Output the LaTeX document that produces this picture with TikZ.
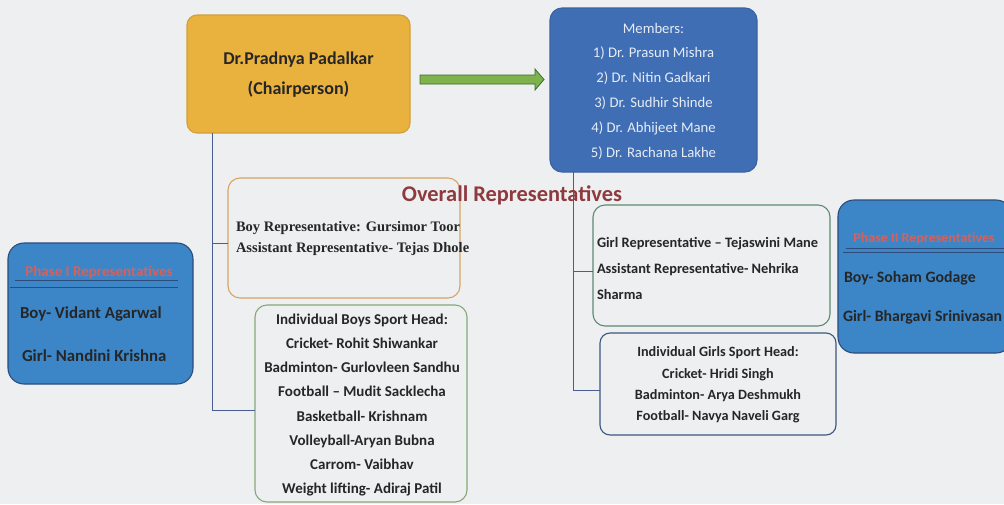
\documentclass[tikz,border=0pt]{standalone}
\usepackage{fontspec}
\setmainfont{Carlito}
\newfontfamily\serifb{Liberation Serif}
\usetikzlibrary{calc}
\definecolor{bg}{HTML}{EDEFF1}
\definecolor{chairfill}{HTML}{E9B23F}
\definecolor{memfill}{HTML}{3F6EB4}
\definecolor{memtext}{HTML}{E6ECF6}
\definecolor{phfill}{HTML}{3C86C8}
\definecolor{phdraw}{HTML}{2C4C7C}
\definecolor{orangeb}{HTML}{D9A463}
\definecolor{greenb}{HTML}{86A878}
\definecolor{tealb}{HTML}{5E8A72}
\definecolor{navyb}{HTML}{3B5680}
\definecolor{conn}{HTML}{4A5C92}
\definecolor{headred}{HTML}{8E3A3E}
\definecolor{phred}{HTML}{D8605A}
\definecolor{txt}{HTML}{262626}
\definecolor{arrfill}{HTML}{7DB24C}
\definecolor{arrdraw}{HTML}{3E6A2C}
\tikzset{
  boxs/.style={rectangle, rounded corners=10pt, inner sep=0pt, outer sep=0pt, line width=1.1pt},
  lbl/.style={inner sep=0pt, outer sep=0pt, text=txt},
  connl/.style={draw=conn, line width=1pt},
}
\begin{document}
\begin{tikzpicture}[x=1pt,y=-1pt]
\fill[bg] (0,0) rectangle (1004,504);
\useasboundingbox (0,0) rectangle (1004,504);
\clip (0,0) rectangle (1004,504);
% boxes
\node[boxs, fill=chairfill, draw=chairfill!90!black, minimum width=223pt, minimum height=118pt] (chair) at (298.5,74) {};
\node[boxs, fill=memfill, draw=memfill!90!black, rounded corners=12pt, minimum width=207pt, minimum height=164pt] (mem) at (653.5,90) {};
\node[boxs, draw=orangeb, fill=bg, rounded corners=12pt, minimum width=232pt, minimum height=120pt] (overall) at (344,238) {};
\node[boxs, draw=greenb, fill=bg, rounded corners=12pt, minimum width=212pt, minimum height=197pt] (boys) at (361,403.5) {};
\node[boxs, draw=tealb, fill=bg, rounded corners=12pt, minimum width=237pt, minimum height=121pt] (girlrep) at (711.5,265.5) {};
\node[boxs, draw=navyb, fill=bg, rounded corners=10pt, minimum width=236pt, minimum height=102pt] (girlsport) at (718,384) {};
\node[boxs, fill=phfill, draw=phdraw, rounded corners=16pt, minimum width=185pt, minimum height=141pt] (ph1) at (100.5,313.5) {};
\node[boxs, fill=phfill, draw=phdraw, rounded corners=16pt, minimum width=174pt, minimum height=153pt] (ph2) at (925,276.5) {};
% connectors
\coordinate (tl) at (212,410);
\coordinate (tlo) at (212,243);
\draw[connl] (tl |- chair.south) -- (tl) -- (tl -| boys.west);
\draw[connl] (tlo) -- (tlo -| overall.west);
\coordinate (tr) at (573,390);
\coordinate (tro) at (573,271);
\draw[connl] (tr |- mem.south) -- (tr) -- (tr -| girlsport.west);
\draw[connl] (tro) -- (tro -| girlrep.west);
% green arrow
\filldraw[fill=arrfill, draw=arrdraw, line width=0.8pt, line join=miter]
  ($(chair.east)+(10,1)$) -- ($(chair.east)+(125,1)$) -- ($(chair.east)+(125,-5)$)
  -- ($(chair.east)+(134,5.5)$) -- ($(chair.east)+(125,16)$) -- ($(chair.east)+(125,10)$)
  -- ($(chair.east)+(10,10)$) -- cycle;
% texts
\node[lbl, align=center, font=\fontsize{18}{30}\selectfont\bfseries] (chairT) at (298.5,75) {Dr.Pradnya Padalkar\\(Chairperson)};
\node[lbl, text=memtext, align=center, font=\fontsize{14.7}{24.8}\selectfont] (memT) at (653.5,91) {Members:\\1) Dr. Prasun Mishra\\2) Dr. Nitin Gadkari\\3) Dr. Sudhir Shinde\\4) Dr. Abhijeet Mane\\5) Dr. Rachana Lakhe};
\node[lbl, text=headred, font=\fontsize{22.4}{26}\selectfont\bfseries] (head) at (512,195) {Overall Representatives};
\node[lbl, anchor=west, align=left, font=\fontsize{14.5}{21}\selectfont\serifb\bfseries] (overallT) at (236,239) {Boy Representative: Gursimor Toor\\Assistant Representative- Tejas Dhole};
\node[lbl, align=center, font=\fontsize{15}{24.1}\selectfont\bfseries] (boysT) at (362,405) {Individual Boys Sport Head:\\Cricket- Rohit Shiwankar\\Badminton- Gurlovleen Sandhu\\Football -- Mudit Sacklecha\\Basketball- Krishnam\\Volleyball-Aryan Bubna\\Carrom- Vaibhav\\Weight lifting- Adiraj Patil};
\node[lbl, anchor=west, align=left, font=\fontsize{14.4}{26}\selectfont\bfseries] (girlrepT) at (597,268) {Girl Representative -- Tejaswini Mane\\Assistant Representative- Nehrika\\Sharma};
\node[lbl, align=center, font=\fontsize{14.2}{21.3}\selectfont\bfseries] (girlsportT) at (718,385) {Individual Girls Sport Head:\\Cricket- Hridi Singh\\Badminton- Arya Deshmukh\\Football- Navya Naveli Garg};
% phase I
\node[lbl, text=phred, font=\fontsize{15}{18}\selectfont\bfseries] (ph1H) at (99,272) {Phase I Representatives};
\draw[draw=phdraw, line width=0.9pt] ($(ph1.west)+(7,-33)$) -- ($(ph1.east)+(-15,-33)$);
\draw[draw=phdraw, line width=0.9pt] ($(ph1.west)+(2,-26)$) -- ($(ph1.east)+(-15,-26)$);
\node[lbl, anchor=west, font=\fontsize{16.8}{20}\selectfont\bfseries] (ph1B) at (20,314) {Boy- Vidant Agarwal};
\node[lbl, anchor=west, font=\fontsize{16.8}{20}\selectfont\bfseries] (ph1G) at (22,356) {Girl- Nandini Krishna};
% phase II
\node[lbl, text=phred, font=\fontsize{14}{17}\selectfont\bfseries] (ph2H) at (924,239) {Phase II Representatives};
\draw[draw=phdraw, line width=0.9pt] ($(ph2.west)+(8,-28.5)$) -- ($(ph2.east)+(-8,-28.5)$);
\draw[draw=phdraw, line width=0.9pt] ($(ph2.west)+(5,-24.5)$) -- ($(ph2.east)+(-8,-24.5)$);
\node[lbl, anchor=west, font=\fontsize{15.8}{19}\selectfont\bfseries] (ph2B) at (844,278) {Boy- Soham Godage};
\node[lbl, anchor=west, font=\fontsize{15.8}{19}\selectfont\bfseries] (ph2G) at (843,317) {Girl- Bhargavi Srinivasan};
\end{tikzpicture}
\end{document}
